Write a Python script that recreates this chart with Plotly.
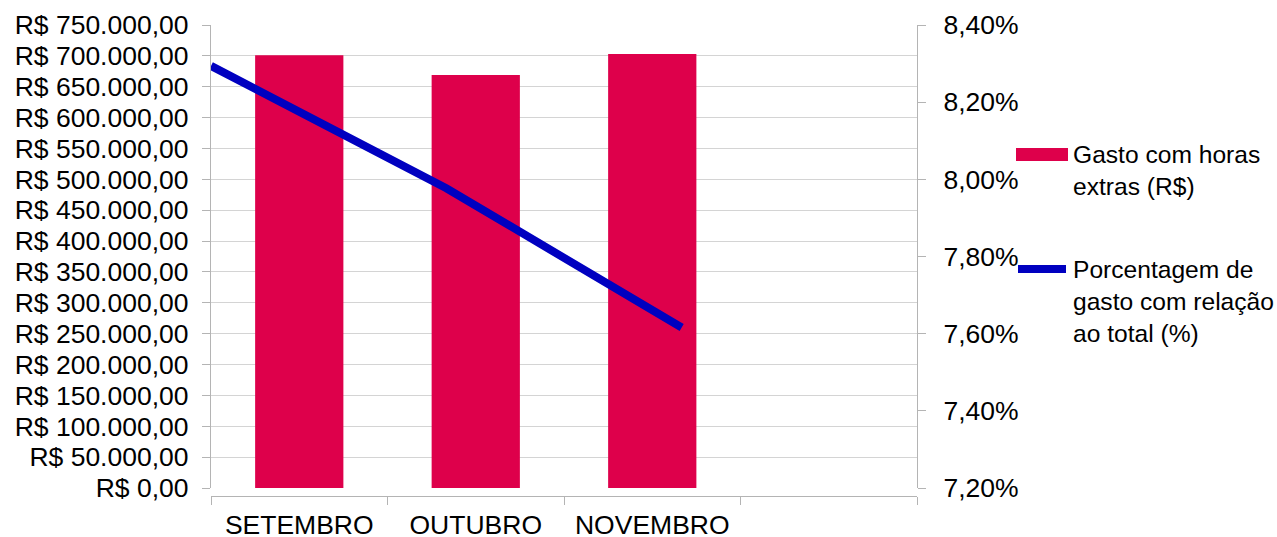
import plotly.graph_objects as go

# Overtime spending per month and its share of total spending
meses = ["SETEMBRO", "OUTUBRO", "NOVEMBRO"]
gasto_horas_extras = [701000, 669000, 703000]
porcentagem_total = [8.294, 7.977, 7.616]

eixo_categorias = meses + [" "]
ticks_reais = list(range(0, 750001, 50000))
ticks_pct = [7.2, 7.4, 7.6, 7.8, 8.0, 8.2, 8.4]


def fmt_reais(v):
    s = f"{v:,.2f}".replace(",", "X").replace(".", ",").replace("X", ".")
    return "R$ " + s


def fmt_pct(v):
    return f"{v:.2f}".replace(".", ",") + "%"


FAMILIA = "Liberation Sans, Arial, sans-serif"
FONTE = dict(family=FAMILIA, size=26.5, color="#000000")
FONTE_LEG = dict(family=FAMILIA, size=24.6, color="#000000")
COR_BARRA = "#de004b"
COR_LINHA = "#0000c0"
COR_GRADE = "#d4d4d4"
COR_EIXO = "#b4b4b4"

W, H = 1277, 537
ML, MR, MT, MB = 211, 360, 25, 41

fig = go.Figure()

fig.add_trace(go.Bar(
    x=meses, y=gasto_horas_extras,
    marker=dict(color=COR_BARRA, line=dict(width=0)),
    width=0.5, xaxis="x", yaxis="y",
    name="Gasto com horas extras (R$)", showlegend=False,
))

fig.add_trace(go.Scatter(
    x=list(range(len(meses))), y=porcentagem_total,
    mode="lines", line=dict(color=COR_LINHA, width=8),
    xaxis="x2", yaxis="y2", cliponaxis=True,
    name="Porcentagem de gasto com relação ao total (%)", showlegend=False,
))

# plot area bottom sits slightly above the category axis line
dom_h = H - MT - MB
y_dom0 = 8 / dom_h

fig.update_layout(
    width=W, height=H,
    margin=dict(l=ML, r=MR, t=MT, b=MB, autoexpand=False),
    paper_bgcolor="white", plot_bgcolor="white",
    font=FONTE,
    showlegend=False,
    xaxis=dict(
        type="category", categoryarray=eixo_categorias, categoryorder="array",
        range=[-0.5, 3.5], anchor="free", position=0, automargin=False,
        showline=True, linecolor=COR_EIXO, linewidth=1.3,
        ticks="outside", tickson="boundaries", ticklen=8, tickcolor=COR_EIXO, tickwidth=1.3,
        ticklabelstandoff=5,
        showgrid=False, tickfont=FONTE,
    ),
    xaxis2=dict(
        overlaying="x", range=[0, 3], visible=False, anchor="y2",
    ),
    yaxis=dict(
        domain=[y_dom0, 1], range=[0, 750000], automargin=False,
        tickvals=ticks_reais, ticktext=[fmt_reais(v) for v in ticks_reais],
        showline=True, linecolor=COR_EIXO, linewidth=1.3,
        ticks="outside", ticklen=8, tickcolor=COR_EIXO, tickwidth=1.3,
        ticklabelstandoff=8,
        showgrid=True, gridcolor=COR_GRADE, gridwidth=1.3,
        zeroline=False, tickfont=FONTE,
    ),
    yaxis2=dict(
        overlaying="y", side="right", range=[7.2, 8.4], automargin=False,
        tickvals=ticks_pct, ticktext=[fmt_pct(v) for v in ticks_pct],
        showline=True, linecolor=COR_EIXO, linewidth=1.3,
        ticks="outside", ticklen=8, tickcolor=COR_EIXO, tickwidth=1.3,
        ticklabelstandoff=12,
        showgrid=False, zeroline=False, tickfont=FONTE,
    ),
)

# Legend drawn to the right of the plot (pixel positions -> paper fractions)
def px(x):
    return (x - ML) / (W - ML - MR)


def py(y):
    return (H - MB - y) / (H - MT - MB)


fig.add_shape(type="rect", xref="paper", yref="paper",
              x0=px(1016), x1=px(1068), y0=py(161), y1=py(148),
              fillcolor=COR_BARRA, line=dict(width=0))
fig.add_shape(type="line", xref="paper", yref="paper",
              x0=px(1018), x1=px(1066), y0=py(269), y1=py(269),
              line=dict(color=COR_LINHA, width=8))

fig.add_annotation(xref="paper", yref="paper", x=px(1071), y=py(139),
                   xanchor="left", yanchor="top", align="left", showarrow=False,
                   text="Gasto com horas<br>extras (R$)", font=FONTE_LEG)
fig.add_annotation(xref="paper", yref="paper", x=px(1071), y=py(254),
                   xanchor="left", yanchor="top", align="left", showarrow=False,
                   text="Porcentagem de<br>gasto com relação<br>ao total (%)", font=FONTE_LEG)

fig.write_html("out.html")
